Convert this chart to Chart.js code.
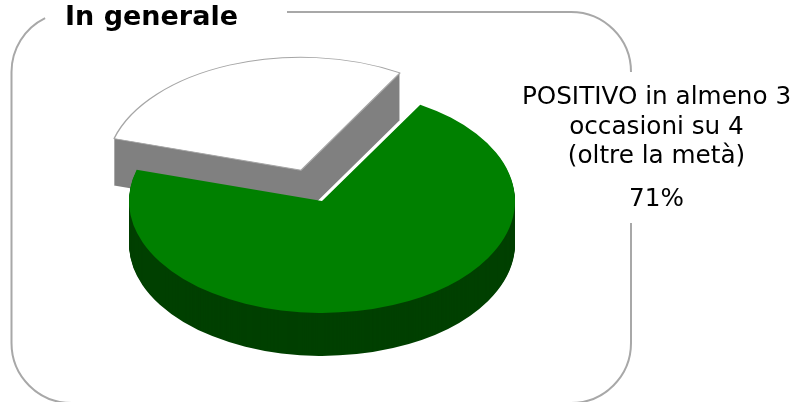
<!DOCTYPE html>
<html>
<head>
<meta charset="utf-8">
<script src="https://cdn.jsdelivr.net/npm/chart.js@4"></script>
<style>
  html, body { margin: 0; padding: 0; background: #fff; }
  #wrap { position: relative; width: 796px; height: 402px; overflow: hidden; }
  canvas { position: absolute; left: 0; top: 0; }
  .txt { position: absolute; font-family: "DejaVu Sans", sans-serif; color: #000; white-space: nowrap; }
  #title { left: 65px; top: 1px; font-size: 27px; font-weight: bold; line-height: 30px; }
  #note { left: 516px; width: 281px; top: 81px; font-size: 24.7px; line-height: 29.5px; text-align: center; }
  #pct { left: 516px; width: 281px; top: 183px; font-size: 24.7px; line-height: 29.5px; text-align: center; }
</style>
</head>
<body>
<div id="wrap">
  <canvas id="chart" width="796" height="402"></canvas>
  <div class="txt" id="title"></div>
  <div class="txt" id="note"></div>
  <div class="txt" id="pct"></div>
</div>
<script>
const categories = ["POSITIVO", "Altro"];
const values = [71, 29];
const sliceColors = ["#008000", "#ffffff"];
const sideColors = ["#004000", "#808080"];
const titleText = "In generale";
const noteLines = ["POSITIVO in almeno 3", "occasioni su 4", "(oltre la metà)"];
const pctText = "71%";

document.getElementById("title").textContent = titleText;
document.getElementById("note").innerHTML = noteLines.join("<br>");
document.getElementById("pct").textContent = pctText;

const squash = 0.58;
const midY = 201;
const sideDepth = [43, 47];

// rounded frame, broken where the title and the note sit
const framePlugin = {
    id: "frame",
    beforeDraw(chart) {
        const c = chart.ctx;
        c.save();
        c.strokeStyle = "#a8a8a8";
        c.lineWidth = 2;
        c.beginPath();
        c.moveTo(287, 12);
        c.lineTo(571, 12);
        c.arc(571, 72, 60, -Math.PI / 2, 0);
        c.moveTo(631, 223);
        c.lineTo(631, 343);
        c.arc(571, 343, 60, 0, Math.PI / 2);
        c.moveTo(71.5, 403);
        c.arc(71.5, 343, 60, Math.PI / 2, Math.PI);
        c.lineTo(11.5, 72);
        c.arc(71.5, 72, 60, Math.PI, Math.PI * 1.355);
        c.stroke();
        c.restore();
    }
};

// squashes the pie and stacks the arcs to get the 3d look
const pie3dPlugin = {
    id: "pie3d",
    beforeDatasetDraw(chart, args) {
        const c = chart.ctx;
        const arcs = args.meta.data;
        [1, 0].forEach(i => {
            const arc = arcs[i];
            const own = arc.options;
            arc.options = {
                backgroundColor: sideColors[i],
                borderColor: sideColors[i],
                borderWidth: 0,
                borderAlign: "center",
                borderJoinStyle: "round",
                borderRadius: 0,
                borderDash: [],
                borderDashOffset: 0,
                circular: true,
                spacing: 0,
                offset: own.offset
            };
            for (let d = sideDepth[i]; d >= 1; d--) {
                c.save();
                c.translate(0, midY + d);
                c.scale(1, squash);
                c.translate(0, -midY);
                arc.draw(c);
                c.restore();
            }
            arc.options = own;
            c.save();
            c.translate(0, midY);
            c.scale(1, squash);
            c.translate(0, -midY);
            arc.draw(c);
            c.restore();
        });
        return false;
    }
};

new Chart(document.getElementById("chart"), {
    type: "pie",
    data: {
        labels: categories,
        datasets: [{
            data: values,
            backgroundColor: sliceColors,
            borderColor: ["#008000", "#a6a6a6"],
            borderWidth: [0, 1.5],
            offset: [0, 228]
        }]
    },
    options: {
        responsive: false,
        animation: false,
        rotation: 30.6,
        radius: 193,
        layout: { padding: { right: 152 } },
        plugins: { legend: { display: false }, tooltip: { enabled: false } }
    },
    plugins: [framePlugin, pie3dPlugin]
});
</script>
</body>
</html>
